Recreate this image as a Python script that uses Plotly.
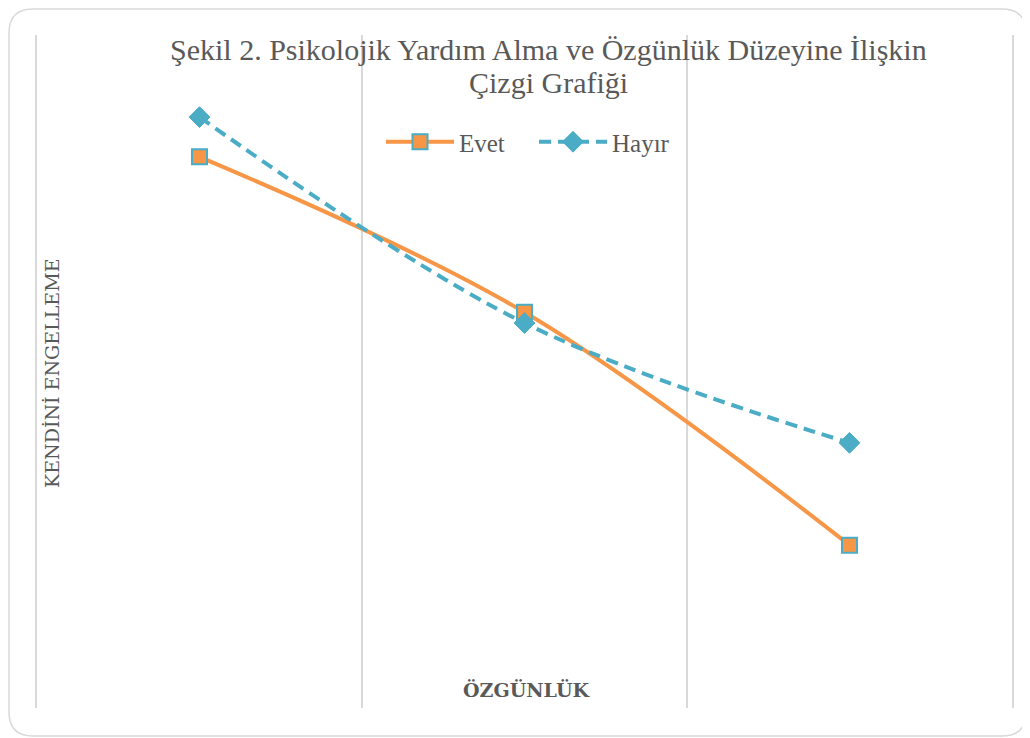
import plotly.graph_objects as go

x_pos = [1, 2, 3]
evet = [8.19, 5.88, 2.42]
hayir = [8.78, 5.72, 3.94]
grid_vals = [0.5, 1.5, 2.5, 3.5]

title_lines = ["Şekil 2. Psikolojik Yardım Alma ve Özgünlük Düzeyine İlişkin", "Çizgi Grafiği"]
x_title = "ÖZGÜNLÜK"
y_title = "KENDİNİ ENGELLEME"

ORANGE = "#F79646"
TEAL = "#4BACC6"
TXT = "#595959"

OFF = 8  # page body margin
W, H = 1030 - OFF, 738 - OFF
L, R, T, B = 37, 1012, 35, 708  # screen pixels of plot area

def px(x):
    return (x - L) / (R - L)

def py(y):
    return (B - y) / (B - T)

fig = go.Figure()
fig.add_trace(go.Scatter(
    x=x_pos, y=evet, name="Evet", mode="lines+markers",
    line=dict(color=ORANGE, width=4, shape="spline", smoothing=1.0),
    marker=dict(symbol="square", size=15, color=ORANGE, line=dict(color=TEAL, width=2)),
))
fig.add_trace(go.Scatter(
    x=x_pos, y=hayir, name="Hayır", mode="lines+markers",
    line=dict(color=TEAL, width=4, dash="12px,7px", shape="spline", smoothing=1.0),
    marker=dict(symbol="diamond", size=16, color=TEAL, line=dict(color=TEAL, width=1)),
))

# rounded border (screen pixel coords)
x0, x1, y0, y1, r = 9, 1026, 9, 736, 24
path = (f"M {px(x0+r)} {py(y0)} L {px(x1-r)} {py(y0)} Q {px(x1)} {py(y0)} {px(x1)} {py(y0+r)} "
        f"L {px(x1)} {py(y1-r)} Q {px(x1)} {py(y1)} {px(x1-r)} {py(y1)} "
        f"L {px(x0+r)} {py(y1)} Q {px(x0)} {py(y1)} {px(x0)} {py(y1-r)} "
        f"L {px(x0)} {py(y0+r)} Q {px(x0)} {py(y0)} {px(x0+r)} {py(y0)} Z")
fig.add_shape(type="path", path=path, xref="paper", yref="paper",
              line=dict(color="#D9D9D9", width=1.5), layer="below")

for line_text, yc in zip(title_lines, [49, 83]):
    fig.add_annotation(text=line_text, x=px(548), y=py(yc), xref="paper", yref="paper",
                       showarrow=False, font=dict(family="Liberation Serif", size=30, color=TXT),
                       xanchor="center", yanchor="middle", align="center")
fig.add_annotation(text=f"<b>{x_title}</b>", x=px(526), y=py(690), xref="paper", yref="paper",
                   showarrow=False, font=dict(family="DejaVu Serif", size=19, color=TXT),
                   xanchor="center", yanchor="middle")
fig.add_annotation(text=y_title, x=px(52), y=py(373), xref="paper", yref="paper",
                   showarrow=False, textangle=-90,
                   font=dict(family="DejaVu Serif", size=19, color=TXT),
                   xanchor="center", yanchor="middle")

fig.update_layout(
    width=W, height=H,
    margin=dict(l=L - OFF, r=W - (R - OFF), t=T - OFF, b=H - (B - OFF)),
    paper_bgcolor="white", plot_bgcolor="white",
    showlegend=True,
    legend=dict(orientation="h", x=px(534), y=py(142), xanchor="center", yanchor="middle",
                font=dict(family="Liberation Serif", size=25, color=TXT),
                bgcolor="rgba(0,0,0,0)", itemwidth=68, entrywidth=70),
    xaxis=dict(range=[0.5, 3.5], tickvals=grid_vals, showticklabels=False, ticks="",
               showgrid=True, gridcolor="#D9D9D9", gridwidth=1.5, zeroline=False, showline=False),
    yaxis=dict(range=[0, 10], showticklabels=False, showgrid=False, zeroline=False, ticks="",
               showline=True, mirror=True, linecolor="#D9D9D9", linewidth=1.5),
)

fig.write_html("out.html")
